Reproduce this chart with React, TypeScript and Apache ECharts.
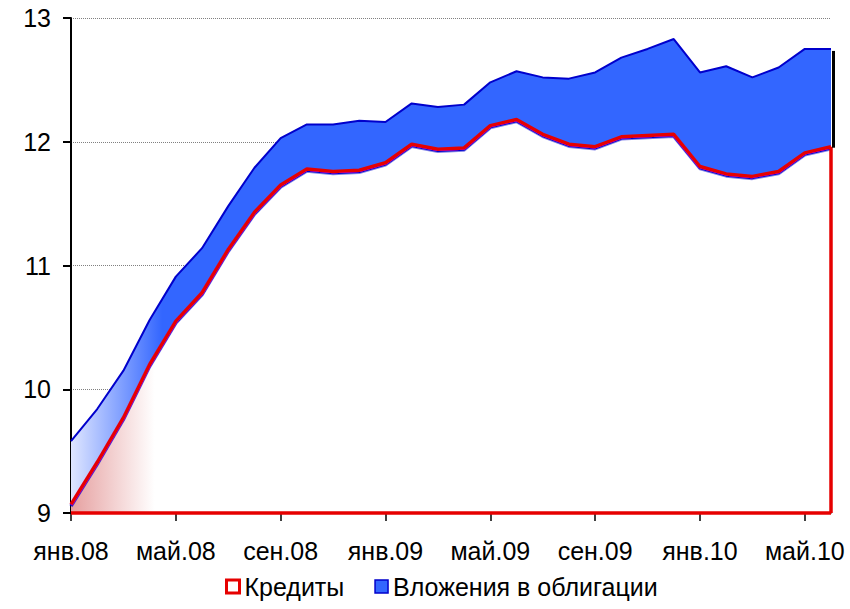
import React, { useEffect, useRef } from "react";
import * as echarts from "echarts";

const months = [
  "янв.08", "фев.08", "мар.08", "апр.08", "май.08", "июн.08", "июл.08", "авг.08", "сен.08", "окт.08", "ноя.08", "дек.08",
  "янв.09", "фев.09", "мар.09", "апр.09", "май.09", "июн.09", "июл.09", "авг.09", "сен.09", "окт.09", "ноя.09", "дек.09",
  "янв.10", "фев.10", "мар.10", "апр.10", "май.10", "июн.10",
];

const credits = [
  9.07, 9.41, 9.77, 10.2, 10.55, 10.78, 11.13, 11.43, 11.65, 11.78, 11.76, 11.77,
  11.83, 11.98, 11.94, 11.95, 12.13, 12.18, 12.06, 11.98, 11.96, 12.04, 12.05, 12.06,
  11.8, 11.74, 11.72, 11.76, 11.91, 11.96,
];

const bonds = [
  0.51, 0.43, 0.38, 0.36, 0.36, 0.36, 0.35, 0.36, 0.38, 0.36, 0.38, 0.4,
  0.33, 0.33, 0.34, 0.35, 0.35, 0.39, 0.46, 0.53, 0.6, 0.64, 0.7, 0.77,
  0.76, 0.87, 0.8, 0.84, 0.84, 0.79,
];

const yTicks = { min: 9, max: 13, interval: 1 };
const seriesNames = ["Кредиты", "Вложения в облигации"];

const RED = "#e60000";
const BLUE_FILL = "#3366ff";
const BLUE_LINE = "#0000cc";
const FONT = "'Liberation Sans', Arial, sans-serif";

export default function App() {
  const ref = useRef<HTMLDivElement>(null);

  useEffect(() => {
    if (!ref.current) return;
    const chart = echarts.init(ref.current, null, { renderer: "svg" });
    const last = months.length - 1;
    const edgeData = [[last, credits[last], credits[last] + bonds[last]]];

    chart.setOption({
      animation: false,
      textStyle: { fontFamily: FONT },
      grid: { left: 71, right: 19, top: 18, bottom: 96, containLabel: false },
      legend: {
        left: 220,
        top: 569,
        itemWidth: 13,
        itemHeight: 13,
        itemGap: 30,
        textStyle: { fontSize: 25, color: "#000", fontFamily: FONT },
        selectedMode: false,
        data: [
          { name: seriesNames[0], icon: "rect", itemStyle: { color: "#fff", borderColor: RED, borderWidth: 3 } },
          { name: seriesNames[1], icon: "rect", itemStyle: { color: BLUE_FILL, borderColor: BLUE_LINE, borderWidth: 1.5 } },
        ],
      },
      xAxis: {
        type: "category",
        data: months,
        boundaryGap: false,
        axisLine: { show: true, lineStyle: { color: "#000", width: 1.5 } },
        axisTick: { show: true, interval: 3, length: 8, lineStyle: { color: "#000", width: 1.5 } },
        axisLabel: { interval: 3, fontSize: 25, color: "#000", margin: 25, fontFamily: FONT },
        splitLine: { show: false },
      },
      yAxis: {
        type: "value",
        min: yTicks.min,
        max: yTicks.max,
        interval: yTicks.interval,
        axisLine: { show: true, lineStyle: { color: "#000", width: 2 } },
        axisTick: { show: true, length: 8, lineStyle: { color: "#000", width: 2 } },
        axisLabel: { fontSize: 25, color: "#000", margin: 20, fontFamily: FONT },
        splitLine: { show: true, lineStyle: { color: "#808080", width: 1, type: "dotted" } },
      },
      series: [
        {
          name: seriesNames[0],
          type: "line",
          stack: "total",
          data: credits,
          symbol: "none",
          showSymbol: false,
          clip: false,
          z: 3,
          lineStyle: { color: RED, width: 3.5, shadowColor: BLUE_LINE, shadowOffsetY: 1.5, shadowBlur: 0 },
          itemStyle: { color: RED },
          areaStyle: {
            color: new echarts.graphic.LinearGradient(0, 0, 1, 0, [
              { offset: 0, color: "#e6a0a0" },
              { offset: 0.11, color: "#ffffff" },
              { offset: 1, color: "#ffffff" },
            ]),
            opacity: 1,
          },
          emphasis: { disabled: true },
        },
        {
          name: seriesNames[1],
          type: "line",
          stack: "total",
          data: bonds,
          symbol: "none",
          showSymbol: false,
          clip: false,
          z: 2,
          lineStyle: { color: BLUE_LINE, width: 2 },
          itemStyle: { color: BLUE_FILL },
          areaStyle: {
            color: new echarts.graphic.LinearGradient(0, 0, 1, 0, [
              { offset: 0, color: "#dfe6ff" },
              { offset: 0.12, color: BLUE_FILL },
              { offset: 1, color: BLUE_FILL },
            ]),
            opacity: 1,
          },
          emphasis: { disabled: true },
        },
        {
          name: "edges",
          type: "custom",
          data: edgeData,
          clip: false,
          z: 4,
          silent: true,
          renderItem: (params: any, api: any) => {
            const idx = api.value(0);
            const red = api.value(1);
            const top = api.value(2);
            const base0 = api.coord([0, yTicks.min]);
            const baseN = api.coord([idx, yTicks.min]);
            const pRed = api.coord([idx, red]);
            const pTop = api.coord([idx, top]);
            return {
              type: "group",
              children: [
                {
                  type: "line",
                  shape: { x1: base0[0], y1: base0[1], x2: baseN[0], y2: baseN[1] },
                  style: { stroke: RED, lineWidth: 3.5 },
                },
                {
                  type: "line",
                  shape: { x1: baseN[0], y1: baseN[1], x2: pRed[0], y2: pRed[1] },
                  style: { stroke: RED, lineWidth: 3.5 },
                },
                {
                  type: "line",
                  shape: { x1: pTop[0] + 2.5, y1: pTop[1] + 2, x2: pRed[0] + 2.5, y2: pRed[1] + 1 },
                  style: { stroke: "#000", lineWidth: 3 },
                },
              ],
            };
          },
        },
      ],
    });

    return () => chart.dispose();
  }, []);

  return (
    <div
      ref={ref}
      style={{ position: "absolute", left: 0, top: 0, width: 850, height: 609, background: "#fff" }}
    />
  );
}
